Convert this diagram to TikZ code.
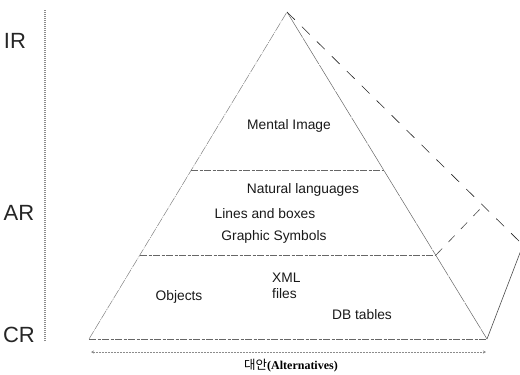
\documentclass[tikz,border=0pt]{standalone}
\usepackage{fontspec}
\setmainfont{Liberation Sans}
\newfontfamily\krfont{Noto Sans CJK KR}
\newfontfamily\timesfont{Liberation Serif}
\usetikzlibrary{arrows.meta}
\begin{document}
\begin{tikzpicture}[x=1pt,y=-1pt,
  edge/.style={black!50,line width=0.5pt,dash pattern=on 9pt off 1pt on 1pt off 1pt},
  layer/.style={black!60,line width=0.6pt,dash pattern=on 7pt off 1.5pt on 3pt off 1.5pt},
  backline/.style={black!85,line width=0.6pt,dash pattern=on 11pt off 10pt},
  hidden/.style={black!70,line width=0.6pt,dash pattern=on 9pt off 9pt},
  axis/.style={black!45,line width=1.4pt,dash pattern=on 1pt off 1pt},
  haxis/.style={black!45,line width=0.6pt,dash pattern=on 2pt off 1pt},
  lvl/.style={font=\fontsize{22}{24}\selectfont,text=black!85,inner sep=0pt},
  lbl/.style={font=\fontsize{13.8}{15}\selectfont,text=black!90,inner sep=0pt}]
  \useasboundingbox (0,0) rectangle (520,375);
  \clip (0,0) rectangle (520,375);

  % pyramid vertices
  \coordinate (apex) at (287,12);
  \coordinate (bl) at (89,339);
  \coordinate (br) at (487,339);
  \coordinate (back) at (523,245);
  % layer boundaries on the front face
  \coordinate (m1l) at (191,170);
  \coordinate (m1r) at (384,170);
  \coordinate (m2l) at (140,255);
  \coordinate (m2r) at (436,255);
  \coordinate (m2b) at (482,207);

  % front face
  \draw[edge] (bl) -- (apex);
  \draw[edge,black!60,dash pattern=on 30pt off 1pt] (apex) -- (br);
  \draw[layer] (bl) -- (br);
  \draw[layer] (m1l) -- (m1r);
  \draw[layer] (m2l) -- (m2r);
  % side face
  \draw[backline] (apex) -- (back);
  \draw[black!70,line width=0.6pt] (br) -- (back);
  \draw[hidden] (m2r) -- (m2b);

  % level axis
  \coordinate (vtop) at (45,10);
  \coordinate (vbot) at (45,341);
  \draw[axis] (vbot) -- (vtop);
  \node[lvl] (ir) at (15,41) {IR};
  \node[lvl] (ar) at (19,213) {AR};
  \node[lvl] (cr) at (19,335) {CR};

  % alternatives axis
  \coordinate (hl) at (91,352);
  \coordinate (hr) at (486,352);
  \draw[haxis,{Stealth[length=3pt,width=3pt]}-{Stealth[length=3pt,width=3pt]}] (hl) -- (hr);
  \node[inner sep=0pt,font=\fontsize{12}{13}\selectfont] (alt) at (291,366)
    {{\krfont\fontsize{12.5}{13}\selectfont 대안}{\timesfont\bfseries (Alternatives)}};

  % layer contents
  \node[lbl] (mental) at (289,126) {Mental Image};
  \node[lbl] (natural) at (303,190) {Natural languages};
  \node[lbl] (lines) at (265,214) {Lines and boxes};
  \node[lbl] (graphic) at (274,237) {Graphic Symbols};
  \node[lbl,anchor=west] (xml) at (272,278) {XML};
  \node[lbl,anchor=west] (files) at (272,294) {files};
  \node[lbl] (objects) at (179,297) {Objects};
  \node[lbl] (db) at (362,315) {DB tables};
\end{tikzpicture}
\end{document}
